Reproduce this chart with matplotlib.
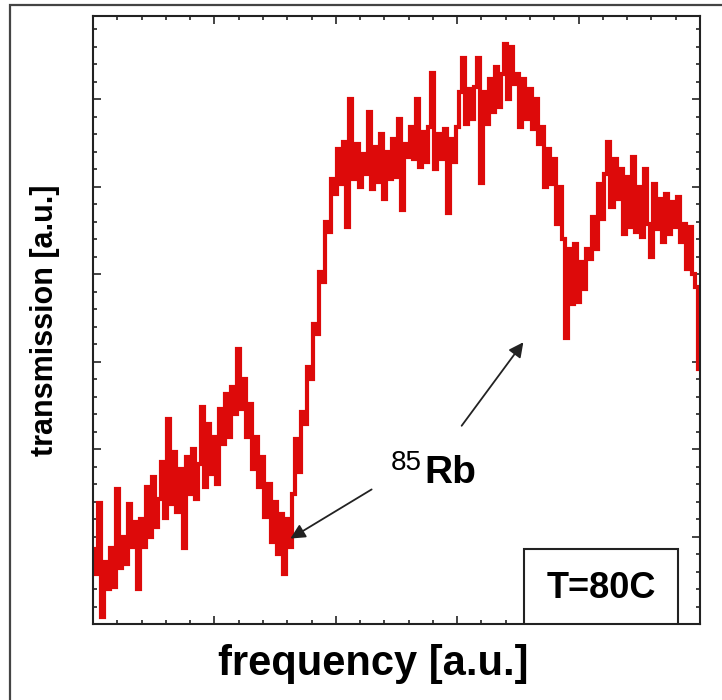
import numpy as np
import matplotlib
matplotlib.use("Agg")
import matplotlib.pyplot as plt
from matplotlib.patches import Rectangle
from matplotlib.ticker import MultipleLocator

# transmission trace (arbitrary units)
trans = [
    60, 40, 97, 6, 50, 28, 61, 30, 108, 45,
    70, 48, 96, 62, 82, 28, 84, 62, 110, 70,
    118, 78, 100, 130, 85, 164, 96, 138, 90, 124,
    61, 134, 104, 140, 100, 128, 174, 110, 160, 120,
    150, 112, 172, 144, 184, 150, 190, 168, 220, 172,
    196, 150, 176, 124, 150, 110, 134, 86, 112, 66,
    98, 56, 88, 40, 84, 62, 104, 148, 122, 170,
    160, 206, 196, 240, 232, 282, 274, 322, 314, 356,
    344, 380, 352, 386, 318, 420, 356, 384, 350, 376,
    360, 410, 348, 382, 354, 392, 340, 378, 356, 388,
    358, 404, 331, 384, 374, 398, 372, 420, 366, 394,
    370, 398, 441, 364, 392, 372, 396, 329, 388, 370,
    398, 426, 453, 400, 428, 404, 430, 453, 353, 426,
    400, 436, 410, 446, 414, 440, 464, 420, 462, 432,
    440, 398, 436, 404, 428, 396, 420, 384, 398, 350,
    380, 352, 372, 320, 350, 308, 229, 300, 256, 304,
    258, 290, 268, 300, 292, 326, 300, 352, 324, 360,
    386, 334, 372, 340, 364, 312, 358, 318, 374, 314,
    350, 310, 364, 320, 294, 352, 316, 340, 306, 344,
    312, 338, 318, 342, 306, 320, 284, 318, 280, 270, 204,
]
freq = np.arange(len(trans))

xlabel = "frequency [a.u.]"
ylabel = "transmission [a.u.]"
temp_label = "T=80C"

plt.rcParams['font.family'] = ['Liberation Sans', 'DejaVu Sans']

fig = plt.figure(figsize=(7.22, 7.0), dpi=100)
W, H = 722, 700

# outer frame of the picture
fig.patches.append(Rectangle((10 / W, -0.1), 1.2, 1 - 5 / H + 0.1,
                             transform=fig.transFigure, fill=False,
                             edgecolor='#444444', lw=1.6))

ax = fig.add_axes([93 / W, 1 - 624 / H, 607 / W, 608 / H])
ax.plot(freq, trans, color='#dd0a0a', lw=3.0, drawstyle='steps-mid',
        solid_joinstyle='miter')

ax.set_xlim(0, len(trans) - 1)
ax.set_ylim(0, 486.4)
ax.xaxis.set_major_locator(MultipleLocator(40))
ax.xaxis.set_minor_locator(MultipleLocator(8))
ax.yaxis.set_major_locator(MultipleLocator(70))
ax.yaxis.set_minor_locator(MultipleLocator(14))
ax.tick_params(which='both', direction='in', top=True, right=True,
               labelbottom=False, labelleft=False, width=1.1, color='#111111')
ax.tick_params(which='major', length=6)
ax.tick_params(which='minor', length=3)
for s in ax.spines.values():
    s.set_linewidth(1.5)
    s.set_color('#222222')

# labels
fig.text(45 / W, 1 - 320 / H, ylabel, rotation=90, ha='center', va='center',
         fontsize=22, fontweight='bold')
fig.text(373 / W, 1 - 664 / H, xlabel, ha='center', va='center',
         fontsize=30, fontweight='bold')

# 85Rb annotation with two arrows
fig.text(422 / W, 1 - 470 / H, "85", ha='right', va='baseline', fontsize=20)
fig.text(424 / W, 1 - 483 / H, "Rb", ha='left', va='baseline', fontsize=28,
         fontweight='bold')
arrow = dict(arrowstyle='-|>', mutation_scale=22, lw=1.3, color='#222222')
ax.annotate("", xy=(288, H - 540), xytext=(374, H - 488),
            xycoords='figure pixels', textcoords='figure pixels', arrowprops=arrow)
ax.annotate("", xy=(525, H - 340), xytext=(460, H - 428),
            xycoords='figure pixels', textcoords='figure pixels', arrowprops=arrow)

# temperature box
ax.add_patch(Rectangle(((524 - 93) / 607, 0), 154 / 607, 75 / 608,
                       transform=ax.transAxes, fill=True, facecolor='white',
                       edgecolor='#222222', lw=1.5, zorder=3))
ax.text((601 - 93) / 607, (624 - 588) / 608, temp_label, transform=ax.transAxes,
        ha='center', va='center', fontsize=26, fontweight='bold', zorder=4)

fig.savefig("out.png", dpi=100)
